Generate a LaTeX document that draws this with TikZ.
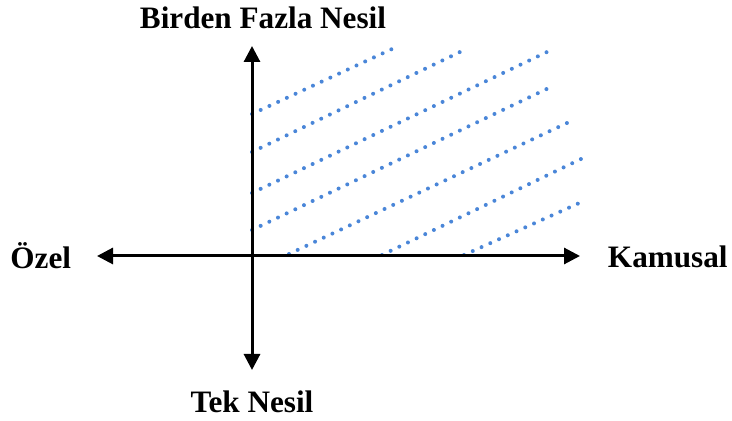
\documentclass[tikz,border=0pt]{standalone}
\usepackage{fontspec}
\setmainfont{Liberation Serif}
\usepackage{tikz}
\usetikzlibrary{arrows.meta, positioning, calc}
\tikzset{
  axis/.style={
    line width=1.5pt,
    {Triangle[length=8pt,width=8pt]}-{Triangle[length=8pt,width=8pt]}
  },
  hatch/.style={
    line width=2pt,
    line cap=round,
    dash pattern=on 0pt off 4.8pt,
    color=dotblue
  },
  lbl/.style={
    inner sep=0pt,
    font=\fontsize{15.6}{18}\selectfont\bfseries
  }
}
\definecolor{dotblue}{RGB}{74,134,216}

\begin{document}
\begin{tikzpicture}[x=0.5pt,y=-0.5pt]
\useasboundingbox (0,0) rectangle (732,421);

% Axis ends
\coordinate (top) at (252,46);
\coordinate (bottom) at (252,370);
\coordinate (left) at (97,256);
\coordinate (right) at (580,256);

% Labels
\node (birden) [lbl, anchor=base] at (263,29) {Birden Fazla Nesil};
\node (tek) [lbl, anchor=base] at (252,413) {Tek Nesil};
\node (ozel) [lbl, anchor=base west] at (10,269) {Özel};
\node (kamusal) [lbl, anchor=base east] at (728,268) {Kamusal};

% Hatching
\foreach \sx/\sy/\ex/\ey in {252/114/392/49, 252/152/460/52, 252/193/547/52,
  252/230/555/85, 289/254/567/123, 382/255/581/159, 464/255/586/200}
  \draw [hatch] (\sx,\sy) -- (\ex,\ey);

% Axes
\draw [axis] (bottom) -- (top);
\draw [axis] (left) -- (right);
\end{tikzpicture}
\end{document}
